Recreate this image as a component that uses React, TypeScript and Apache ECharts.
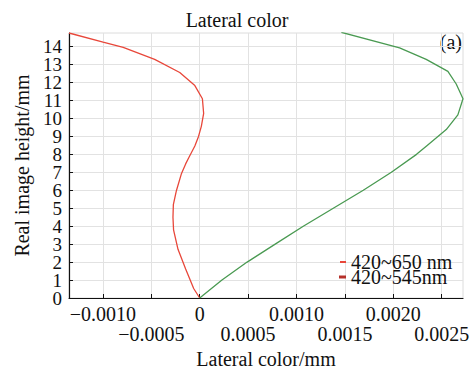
import React, { useEffect, useRef } from "react";
import * as echarts from "echarts";

const redName = "420~650 nm";
const greenName = "420~545nm";
// [lateral color (mm), real image height (mm)]
const redValues: [number, number][] = [
  [0, 0], [-0.000062, 0.53], [-0.000145, 1.62], [-0.000224, 2.71], [-0.00027, 3.8],
  [-0.000276, 4.5], [-0.000272, 5.2], [-0.00024, 5.99], [-0.00019, 6.9], [-0.000145, 7.47],
  [-0.000113, 7.81], [-0.00005, 8.47], [-0.000012, 9.0], [0.000017, 9.56], [0.000041, 10.28],
  [0.000028, 11.1], [-0.00005, 11.83], [-0.000206, 12.56], [-0.000465, 13.29],
  [-0.00079, 13.96], [-0.000998, 14.25], [-0.00135, 14.76],
];
const greenValues: [number, number][] = [
  [0, 0], [0.00023, 1], [0.00049, 2], [0.00078, 3], [0.00107, 4], [0.00138, 5],
  [0.00169, 6], [0.00198, 7], [0.00224, 8], [0.00235, 8.5], [0.002547, 9.38],
  [0.002667, 10.2], [0.00272, 11.1], [0.00265, 11.92], [0.002564, 12.62],
  [0.00234, 13.29], [0.002065, 13.93], [0.001463, 14.8],
];
const xTicks = [-0.001, -0.0005, 0, 0.0005, 0.001, 0.0015, 0.002, 0.0025];
const xLabelsRow1 = [-0.001, 0, 0.001, 0.002];
const xLabelsRow2 = [-0.0005, 0.0005, 0.0015, 0.0025];
const yTicks = [0, 1, 2, 3, 4, 5, 6, 7, 8, 9, 10, 11, 12, 13, 14];
const yLabelsEven = [0, 2, 4, 6, 8, 10, 12, 14];
const yLabelsOdd = [1, 3, 5, 7, 9, 11, 13];

const FONT = "'Liberation Serif', 'Times New Roman', serif";
const RED = "#e8473a";
const GREEN = "#4a9a52";
const X_MIN = -0.00135;
const X_MAX = 0.00272;
const Y_MAX = 14.76;

function fmtX(v: number): string {
  if (Math.abs(v) < 1e-12) return "0";
  const s = Math.abs(v).toFixed(4);
  return (v < 0 ? "\u2212" : "") + s;
}

export default function App() {
  const ref = useRef<HTMLDivElement>(null);
  useEffect(() => {
    if (!ref.current) return;
    const chart = echarts.init(ref.current, undefined, { renderer: "svg" });
    const xLabelBase = {
      fontFamily: FONT,
      fontSize: 20,
      lineHeight: 18,
      color: "#111",
      hideOverlap: false,
      showMinLabel: true,
      showMaxLabel: true,
      formatter: (v: number) => fmtX(v),
    };
    const yLabelBase = {
      fontFamily: FONT,
      fontSize: 19,
      lineHeight: 16,
      color: "#111",
      margin: 7,
      hideOverlap: false,
      showMinLabel: true,
      showMaxLabel: true,
    };
    chart.setOption({
      animation: false,
      backgroundColor: "#fff",
      textStyle: { fontFamily: FONT },
      title: {
        text: "Lateral color",
        left: "center",
        top: 10,
        padding: 0,
        textStyle: { fontFamily: FONT, fontSize: 20, fontWeight: "normal", color: "#111" },
      },
      grid: {
        left: 69, right: 11, top: 33, bottom: 71,
        show: true, borderColor: "#dcdcdc", borderWidth: 1, backgroundColor: "transparent",
      },
      legend: [
        {
          data: [{ name: redName, icon: "rect", itemStyle: { color: RED } }],
          left: 340, top: 252, padding: 0, itemWidth: 6, itemHeight: 2,
          selectedMode: false,
          textStyle: { fontFamily: FONT, fontSize: 20, lineHeight: 13, color: "#111" },
        },
        {
          data: [{ name: greenName, icon: "rect", itemStyle: { color: "#b5302a" } }],
          left: 339, top: 267, padding: 0, itemWidth: 7, itemHeight: 3,
          selectedMode: false,
          textStyle: { fontFamily: FONT, fontSize: 20, lineHeight: 13, color: "#111" },
        },
      ],
      xAxis: [
        {
          type: "value",
          min: X_MIN,
          max: X_MAX,
          name: "Lateral color/mm",
          nameLocation: "middle",
          nameGap: 51,
          nameTextStyle: { fontFamily: FONT, fontSize: 20, color: "#111" },
          axisLine: { show: true, onZero: false, lineStyle: { color: "#111", width: 1.2 } },
          axisTick: { show: true, inside: true, length: 4, customValues: xTicks, lineStyle: { color: "#111" } },
          axisLabel: { ...xLabelBase, customValues: xLabelsRow1, margin: 7 },
          splitLine: { show: true, lineStyle: { color: "#e2e2e2", width: 1 } },
        },
        {
          type: "value",
          min: X_MIN,
          max: X_MAX,
          position: "bottom",
          axisLine: { show: false },
          axisTick: { show: false, customValues: xLabelsRow2 },
          axisLabel: { ...xLabelBase, customValues: xLabelsRow2, margin: 27 },
          splitLine: { show: false },
        },
      ],
      yAxis: [
        {
          type: "value",
          min: 0,
          max: Y_MAX,
          name: "Real image height/mm",
          nameLocation: "middle",
          nameGap: 36,
          nameTextStyle: { fontFamily: FONT, fontSize: 20, color: "#111" },
          axisLine: { show: true, onZero: false, lineStyle: { color: "#111", width: 1.2 } },
          axisTick: { show: true, inside: true, length: 4, customValues: yTicks, lineStyle: { color: "#111" } },
          axisLabel: { ...yLabelBase, customValues: yLabelsEven },
          splitLine: { show: true, lineStyle: { color: "#e2e2e2", width: 1 } },
        },
        {
          type: "value",
          min: 0,
          max: Y_MAX,
          position: "left",
          axisLine: { show: false },
          axisTick: { show: false, customValues: yLabelsOdd },
          axisLabel: { ...yLabelBase, customValues: yLabelsOdd },
          splitLine: { show: false },
        },
      ],
      graphic: [
        {
          type: "text",
          right: 12,
          top: 32,
          style: { text: "(a)", fontFamily: FONT, fontSize: 20, fill: "#111" },
        },
      ],
      series: [
        {
          name: redName,
          type: "line",
          xAxisIndex: 0,
          yAxisIndex: 0,
          data: redValues,
          showSymbol: false,
          symbol: "none",
          lineStyle: { color: RED, width: 1.3 },
          itemStyle: { color: RED },
        },
        {
          name: greenName,
          type: "line",
          xAxisIndex: 0,
          yAxisIndex: 0,
          data: greenValues,
          showSymbol: false,
          symbol: "none",
          lineStyle: { color: GREEN, width: 1.3 },
          itemStyle: { color: GREEN },
        },
      ],
    });
    return () => chart.dispose();
  }, []);
  return <div ref={ref} style={{ width: 474, height: 374, position: "absolute", left: 0, top: 0 }} />;
}
